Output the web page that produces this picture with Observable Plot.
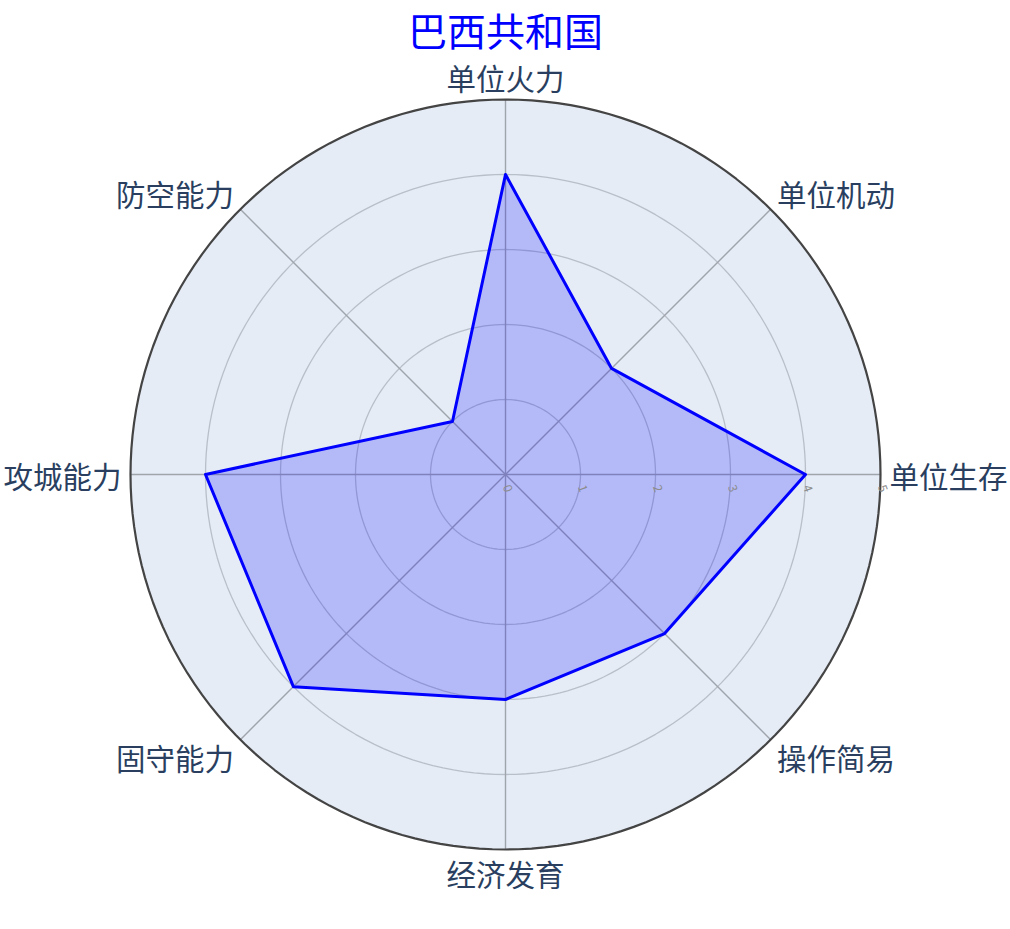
<!DOCTYPE html>
<html><head><meta charset="utf-8">
<script src="https://cdn.jsdelivr.net/npm/d3@7"></script>
<script src="https://cdn.jsdelivr.net/npm/@observablehq/plot@0.6"></script>
<style>body{margin:0;background:#fff;} svg{display:block;}</style>
</head><body><div id="chart"></div>
<script>
const title = "巴西共和国";
const categories = ["单位火力","单位机动","单位生存","操作简易","经济发育","固守能力","攻城能力","防空能力"];
const values = [4, 2, 4, 3, 3, 4, 4, 1];
const radialTicks = [0, 1, 2, 3, 4, 5];
const rMax = 5;

const n = categories.length;
const ang = i => (i * 2 * Math.PI) / n;
const pts = values.map((v, i) => ({cat: categories[i], x: v * Math.sin(ang(i)), y: v * Math.cos(ang(i))}));
const circle = (r) => d3.range(0, 361, 2).map(a => ({ring: r, x: r * Math.sin(a * Math.PI / 180), y: r * Math.cos(a * Math.PI / 180)}));
const rings = radialTicks.filter(t => t > 0 && t < rMax).flatMap(circle);
const spokes = categories.map((c, i) => ({x2: rMax * Math.sin(ang(i)), y2: rMax * Math.cos(ang(i))}));
// label offsets (data units): horizontal and vertical radii of label ring
const labRx = 5.12, labRy = 5.31;
const labels = categories.map((c, i) => {
  const s = Math.round(Math.sin(ang(i)) * 1000) / 1000;
  const co = Math.round(Math.cos(ang(i)) * 1000) / 1000;
  return {text: c, x: labRx * s, y: labRy * co, anchor: s > 0 ? "start" : s < 0 ? "end" : "middle"};
});
const font = "'Noto Sans CJK SC', 'Noto Sans', sans-serif";
const labStyle = {x: "x", y: "y", text: "text", fontSize: 29.5, fill: "#2a3f5f", dy: 4};

const chart = Plot.plot({
  width: 1010, height: 929,
  margin: 0,
  x: {domain: [-rMax, rMax], range: [130, 880], axis: null},
  y: {domain: [-rMax, rMax], range: [849, 99], axis: null},
  style: {fontFamily: font, background: "#fff"},
  marks: [
    Plot.line(circle(rMax), {x: "x", y: "y", fill: "#e5ecf6", stroke: "none"}),
    Plot.line(rings, {x: "x", y: "y", z: "ring", stroke: "#b9bfc9", strokeWidth: 1.3}),
    Plot.link(spokes, {x1: 0, y1: 0, x2: "x2", y2: "y2", stroke: "#a0a4ab", strokeWidth: 1.4}),
    Plot.line(pts, {x: "x", y: "y", curve: "linear-closed", fill: "rgba(0,0,255,0.21)", stroke: "blue", strokeWidth: 3}),
    Plot.line(circle(rMax), {x: "x", y: "y", stroke: "#444", strokeWidth: 2.2}),
    Plot.text(radialTicks, {x: d => d, y: 0, text: d => String(d), dy: 14, dx: 2, rotate: 70, fontSize: 12, fill: "#8c8c8c"}),
    Plot.text(labels.filter(d => d.anchor === "start"), {...labStyle, textAnchor: "start"}),
    Plot.text(labels.filter(d => d.anchor === "end"), {...labStyle, textAnchor: "end"}),
    Plot.text(labels.filter(d => d.anchor === "middle"), {...labStyle, textAnchor: "middle"}),
    Plot.text([title], {frameAnchor: "top", dy: 33, text: d => d, fontSize: 39, fill: "blue", lineAnchor: "middle"})
  ]
});
document.getElementById("chart").appendChild(chart);
</script></body></html>
